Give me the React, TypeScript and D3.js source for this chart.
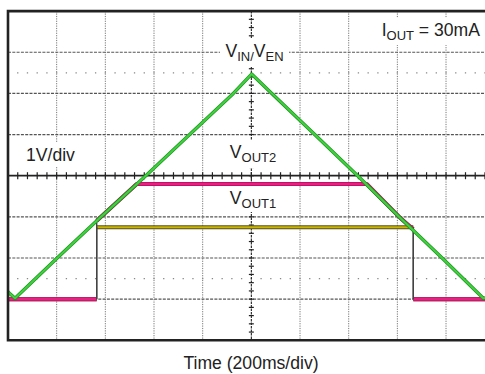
import React from "react";
import * as d3 from "d3";

// Time axis: 200 ms/div, 10 divisions. Voltage: 1 V/div, all channels grounded one div above bottom.
const timeTicks = [0, 200, 400, 600, 800, 1000, 1200, 1400, 1600, 1800, 2000];
const voltTicks = [-1, 0, 1, 2, 3, 4, 5, 6, 7];
const markerLevels = [0.5, 5.5];

const vinT = [0, 8, 29, 200, 378, 563, 752, 926, 1001, 1084, 1255, 1440, 1611, 1786, 1953, 2000];
const vinV = [0.18, 0.13, 0.02, 0.99, 1.98, 2.98, 4.03, 5.0, 5.47, 5.0, 4.03, 2.98, 1.98, 0.99, 0.02, 0.06];

const vout1T = [0, 364.5, 364.5, 1665.5, 1665.5, 2000];
const vout1V = [0, 0, 1.75, 1.75, 0, 0];

const vout2T = [0, 364.5, 364.5, 378, 529, 1474, 1611, 1665.5, 1665.5, 2000];
const vout2V = [0, 0, 1.905, 1.98, 2.8, 2.8, 1.98, 1.7, 0, 0];

const W = 485;
const H = 374;

type P = [number, number];
const zip = (t: number[], v: number[]): P[] => t.map((d, i) => [d, v[i]]);

// split into slow (drawn bright) and fast edges (drawn thin, dark)
function split(pts: P[]) {
  const slow: P[][] = [];
  const fast: P[][] = [];
  let cur: P[] = [pts[0]];
  for (let i = 1; i < pts.length; i++) {
    const a = pts[i - 1];
    const b = pts[i];
    if (a[0] === b[0]) {
      if (cur.length > 1) slow.push(cur);
      fast.push([a, b]);
      cur = [b];
    } else cur.push(b);
  }
  if (cur.length > 1) slow.push(cur);
  return { slow, fast };
}

export default function App() {
  const x = d3.scaleLinear().domain([0, 2000]).range([8, 494.7]);
  const y = d3.scaleLinear().domain([-1, 7]).range([340.3, 11.1]);
  const line = d3
    .line<P>()
    .x((d) => x(d[0]))
    .y((d) => y(d[1]));

  const v1 = split(zip(vout1T, vout1V));
  const v2 = split(zip(vout2T, vout2V));
  const vin = zip(vinT, vinV);

  const minorX = d3.range(0, 2001, 40);
  const minorY = d3.range(-1, 7.001, 0.2);
  const xMinorPx = x(40) - x(0);

  const font = "'Liberation Sans', Arial, Helvetica, sans-serif";

  return (
    <svg width={W} height={H} style={{ position: "absolute", left: 0, top: 0, background: "#fff" }}>
      <rect x={0} y={0} width={W} height={H} fill="#fff" />
      {/* vertical grid */}
      {timeTicks
        .filter((t) => t !== 0 && t !== 1000 && t !== 2000)
        .map((t) => (
          <line key={"vx" + t} x1={x(t)} x2={x(t)} y1={y(7)} y2={y(-1)} stroke="#777" strokeWidth={1} strokeDasharray="1.2,1.2" />
        ))}
      {/* horizontal grid */}
      {voltTicks
        .filter((v) => v !== -1 && v !== 3 && v !== 7)
        .map((v) => (
          <line key={"hy" + v} x1={x(0)} x2={x(2000)} y1={y(v)} y2={y(v)} stroke="#555" strokeWidth={1.2} strokeDasharray="3,1.3" />
        ))}
      {/* marker dotted lines */}
      {markerLevels.map((v) => (
        <line
          key={"m" + v}
          x1={x(0)}
          x2={x(2000)}
          y1={y(v)}
          y2={y(v)}
          stroke="#888"
          strokeWidth={1.3}
          strokeDasharray={`1.3,${xMinorPx - 1.3}`}
          strokeDashoffset={-(xMinorPx - 0.65)}
        />
      ))}
      {/* center axes */}
      <line x1={x(1000)} x2={x(1000)} y1={y(7)} y2={y(-1)} stroke="#222" strokeWidth={1.1} strokeDasharray="2.5,1" />
      {minorY.map((v, i) => (
        <line key={"ty" + i} x1={x(1000) - 2.5} x2={x(1000) + 2.5} y1={y(v)} y2={y(v)} stroke="#222" strokeWidth={1.2} />
      ))}
      <line x1={x(0)} x2={x(2000)} y1={y(3)} y2={y(3)} stroke="#222" strokeWidth={1.8} />
      {minorX.map((t) => (
        <line key={"tx" + t} x1={x(t)} x2={x(t)} y1={y(3) - 3.5} y2={y(3) + 3.5} stroke="#222" strokeWidth={1.2} />
      ))}

      {/* label backgrounds */}
      <rect x={220} y={39} width={69} height={28} fill="#fff" />
      <rect x={225} y={140} width={57} height={28} fill="#fff" />
      <rect x={225} y={186} width={57} height={26} fill="#fff" />
      <rect x={375} y={18} width={110} height={27} fill="#fff" />
      <rect x={22} y={142} width={58} height={25} fill="#fff" />

      {/* VOUT1 */}
      {v1.slow.map((s, i) => (
        <g key={"v1s" + i}>
          <path d={line(s) || ""} fill="none" stroke="#5a5218" strokeWidth={4} />
          <path d={line(s) || ""} fill="none" stroke="#c9b400" strokeWidth={2} />
        </g>
      ))}
      {/* VOUT2 */}
      {v2.slow.map((s, i) => (
        <g key={"v2s" + i}>
          <path d={line(s) || ""} fill="none" stroke="#b0105a" strokeWidth={4} strokeLinejoin="round" />
          <path d={line(s) || ""} fill="none" stroke="#ea1e84" strokeWidth={2.6} strokeLinejoin="round" />
        </g>
      ))}
      {/* fast edges */}
      {[...v1.fast, ...v2.fast].map((s, i) => (
        <path key={"f" + i} d={line(s) || ""} fill="none" stroke="#444" strokeWidth={1.4} />
      ))}
      {/* VIN / VEN */}
      <path d={line(vin) || ""} fill="none" stroke="#1f8f1f" strokeWidth={3.4} strokeLinejoin="round" />
      <path d={line(vin) || ""} fill="none" stroke="#3fd23f" strokeWidth={2} strokeLinejoin="round" />

      {/* frame */}
      <path
        d={`M${x(2000)},${y(7)} H${x(0)} V${y(-1)} H${x(2000)}`}
        fill="none"
        stroke="#222"
        strokeWidth={2.6}
      />

      {/* labels */}
      <g fontFamily={font} fill="#222" fontSize={17.6}>
        <text x={254.5} y={57} textAnchor="middle">
          V<tspan fontSize={13} dy={4}>IN/</tspan>
          <tspan dy={-4}>V</tspan>
          <tspan fontSize={13} dy={4}>EN</tspan>
        </text>
        <text x={253} y={158} textAnchor="middle">
          V<tspan fontSize={13} dy={4}>OUT2</tspan>
        </text>
        <text x={253} y={203.5} textAnchor="middle">
          V<tspan fontSize={13} dy={4}>OUT1</tspan>
        </text>
        <text x={480} y={36} textAnchor="end">
          I<tspan fontSize={13} dy={4}>OUT</tspan>
          <tspan dy={-4}> = 30mA</tspan>
        </text>
        <text x={26} y={161}>1V/div</text>
        <text x={251} y={369} textAnchor="middle">Time (200ms/div)</text>
      </g>
    </svg>
  );
}
